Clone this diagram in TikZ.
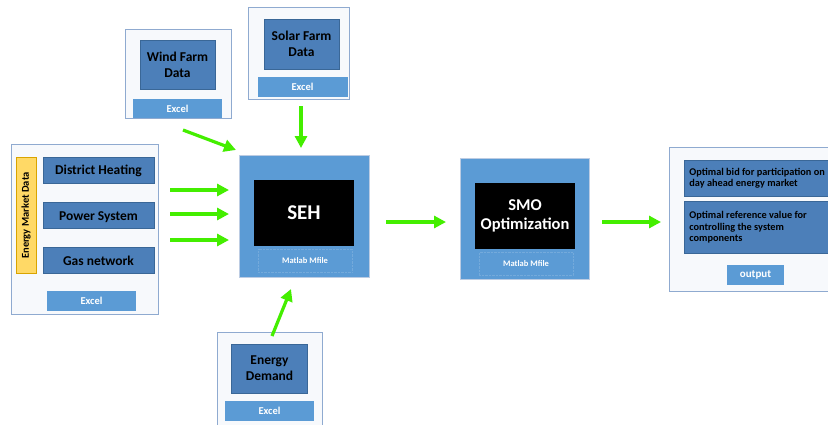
\documentclass[tikz,border=0pt]{standalone}
\usepackage{fontspec}
\setmainfont{Carlito}
\usetikzlibrary{arrows.meta}
\definecolor{frameline}{HTML}{8FAAD0}
\definecolor{framefill}{HTML}{F7F9FC}
\definecolor{darkbox}{HTML}{4C7FB9}
\definecolor{darkline}{HTML}{3A6797}
\definecolor{midblue}{HTML}{5B9BD5}
\definecolor{arrowgreen}{HTML}{44EE00}
\definecolor{yellowfill}{HTML}{FFD966}
\definecolor{yellowline}{HTML}{D9A400}
\tikzset{
  frame/.style={draw=frameline, fill=framefill, line width=0.9pt},
  databox/.style={draw=darkline, fill=darkbox, line width=0.8pt, align=center, font=\bfseries\fontsize{13.5}{16}\selectfont, text=black},
  oneline/.style={text height=9.5pt, text depth=0pt},
  excelbtn/.style={fill=midblue, text=white, font=\bfseries\fontsize{10.5}{11}\selectfont},
  bigbox/.style={draw=frameline!60, fill=midblue, line width=0.6pt},
  blackbox/.style={fill=black, text=white, align=center, font=\bfseries},
  mfile/.style={draw=midblue!85!white, densely dotted, line width=0.4pt, text=white, font=\bfseries\fontsize{8.5}{9}\selectfont},
  flow/.style={draw=arrowgreen, line width=3.2pt, -{Triangle[length=12pt,width=12pt]}},
  outbox/.style={draw=darkline, fill=darkbox, line width=0.8pt, align=left, text=black, font=\bfseries\fontsize{10.3}{11.5}\selectfont, anchor=north west, inner sep=0pt}
}
\begin{document}
\begin{tikzpicture}[x=1pt,y=-1pt]
\useasboundingbox (0,0) rectangle (828,424);
\clip (0,0) rectangle (828,424);
\fill[white] (0,0) rectangle (828,424);

% Energy market data group
\path[frame] (11,144) rectangle (158,314);
\node[draw=yellowline, fill=yellowfill, line width=0.8pt, minimum width=20pt, minimum height=116pt, inner sep=0pt] (emd) at (26,215.5) {};
\node[rotate=90, font=\bfseries\fontsize{10.5}{11}\selectfont] (emdt) at (emd.center) {Energy Market Data};
\node[databox, oneline, minimum width=111pt, minimum height=26pt, inner sep=0pt] (dh) at (98.5,170) {District Heating};
\node[databox, oneline, minimum width=111pt, minimum height=26pt, inner sep=0pt] (ps) at (98.5,215.5) {Power System};
\node[databox, oneline, minimum width=111pt, minimum height=26pt, inner sep=0pt] (gn) at (98.5,260.5) {Gas network};
\node[excelbtn, minimum width=89pt, minimum height=20pt, inner sep=0pt] (ex1) at (91.5,301) {Excel};
\coordinate (h1) at (170,190); \coordinate (h1e) at (229,190);
\coordinate (h2) at (170,214); \coordinate (h2e) at (229,214);
\coordinate (h3) at (170,240); \coordinate (h3e) at (229,240);

% Wind farm
\path[frame] (125,29) rectangle (231,118);
\node[databox, minimum width=75pt, minimum height=49pt, inner sep=0pt] (wind) at (177.5,64.5) {Wind Farm\\Data};
\node[excelbtn, minimum width=89pt, minimum height=19pt, inner sep=0pt] (ex2) at (177.5,108.5) {Excel};

% Solar farm
\path[frame] (248,7) rectangle (349,99);
\node[databox, minimum width=75pt, minimum height=50pt, inner sep=0pt] (solar) at (301.5,44) {Solar Farm\\Data};
\node[excelbtn, minimum width=90pt, minimum height=20pt, inner sep=0pt] (ex3) at (302.5,86.5) {Excel};

% Energy demand
\path[frame] (217,332) rectangle (322,430);
\node[databox, minimum width=76pt, minimum height=49pt, inner sep=0pt] (dem) at (269.5,368.5) {Energy\\Demand};
\node[excelbtn, minimum width=89pt, minimum height=20pt, inner sep=0pt] (ex4) at (269.5,411) {Excel};

% SEH
\node[bigbox, minimum width=130pt, minimum height=122pt, inner sep=0pt] (sehb) at (304.5,216) {};
\node[blackbox, minimum width=100pt, minimum height=66pt, inner sep=0pt, font=\bfseries\fontsize{21}{23}\selectfont] (seh) at (304,213) {SEH};
\node[mfile, minimum width=94pt, minimum height=23pt, inner sep=0pt] (seh m) at (305,260.5) {Matlab Mfile};

% SMO
\node[bigbox, minimum width=129pt, minimum height=121pt, inner sep=0pt] (smob) at (524.5,219) {};
\node[blackbox, minimum width=100pt, minimum height=66pt, inner sep=0pt, font=\bfseries\fontsize{16.5}{19}\selectfont] (smo) at (525,216) {SMO\\Optimization};
\node[mfile, minimum width=94pt, minimum height=23pt, inner sep=0pt] (smo m) at (526,264) {Matlab Mfile};

% Output
\path[frame] (669,147) rectangle (840,291);
\node[outbox, minimum width=150pt, minimum height=36pt] (o1) at (684,160) {\hspace*{2pt}\parbox[c][36pt][c]{142pt}{Optimal bid for participation on\\day ahead energy market}};
\node[outbox, minimum width=150pt, minimum height=52pt] (o2) at (684,201) {\hspace*{2pt}\parbox[c][52pt][c]{142pt}{Optimal reference value for\\controlling the system\\components}};
\node[excelbtn, minimum width=57pt, minimum height=20pt, inner sep=0pt, font=\bfseries\fontsize{11}{12}\selectfont] (outb) at (755.5,275) {output};

% Arrows
\coordinate (wa) at (183,130); \coordinate (wb) at (236,150);
\coordinate (sa) at (301,106); \coordinate (sb) at (301,148);
\coordinate (da) at (272,336); \coordinate (db) at (291,289);
\coordinate (ma) at (386,222); \coordinate (mb) at (446,222);
\coordinate (oa) at (602,222); \coordinate (ob) at (661,222);
\draw[flow] (wa) -- (wb);
\draw[flow] (sa) -- (sb);
\draw[flow] (h1) -- (h1e);
\draw[flow] (h2) -- (h2e);
\draw[flow] (h3) -- (h3e);
\draw[flow] (da) -- (db);
\draw[flow] (ma) -- (mb);
\draw[flow] (oa) -- (ob);
\end{tikzpicture}
\end{document}
